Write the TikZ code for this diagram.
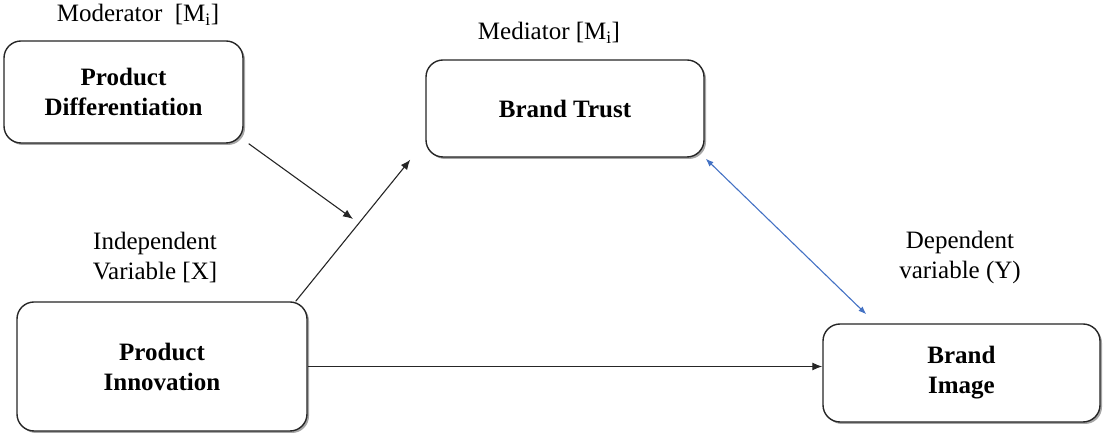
\documentclass[tikz,border=0pt]{standalone}
\usepackage{fontspec}
\setmainfont{Liberation Serif}
\usetikzlibrary{arrows.meta,shadows,calc}
\definecolor{linkblue}{RGB}{68,114,196}
\begin{document}
\begin{tikzpicture}[x=1pt,y=1pt,
  box/.style={draw=black!85,line width=1.4pt,rounded corners=17pt,fill=white,
    align=center,inner sep=0pt,font=\fontsize{25}{30}\selectfont\bfseries,
    drop shadow={shadow xshift=2pt,shadow yshift=-2pt,fill=black,opacity=0.35}},
  tag/.style={align=center,font=\fontsize{25}{30}\selectfont},
  link/.style={draw=black!85,line width=1.1pt,-{Latex[length=10pt,width=8pt]}},
  dlink/.style={draw=linkblue,line width=1.1pt,{Latex[length=8pt,width=6pt]}-{Latex[length=8pt,width=6pt]}}]
\useasboundingbox (0,0) rectangle (1103,433);

% construct boxes
\node[box,minimum width=239pt,minimum height=102pt] (pd) at (123.5,341) {Product\\Differentiation};
\node[box,minimum width=278pt,minimum height=97pt] (bt) at (565,324.5) {Brand Trust};
\node[box,minimum width=290pt,minimum height=129pt] (pi) at (162,66.5) {Product\\Innovation};
\node[box,minimum width=277pt,minimum height=98pt] (bi) at (961.5,60) {Brand\\Image};

% role labels
\node[tag] (lmod) at (138,418) {Moderator\ \ [M\textsubscript{i}]};
\node[tag] (lmed) at (549,400) {Mediator [M\textsubscript{i}]};
\node[tag] (lind) at (155,175.5) {Independent\\Variable [X]};
\node[tag] (ldep) at (960,176) {Dependent\\variable (Y)};

% paths
\coordinate (modend) at (353,214);
\draw[link] ($(pd.south east)+(5,0)$) -- (modend);
\draw[link] ($(pi.north east)+(-12,0)$) -- ($(bt.south west)+(-15,-2)$);
\draw[link] (pi.east) -- (pi.east -| bi.west);
\draw[dlink] ($(bt.south east)+(1,-1)$) -- ($(bi.north west)+(44,9)$);
\end{tikzpicture}
\end{document}
